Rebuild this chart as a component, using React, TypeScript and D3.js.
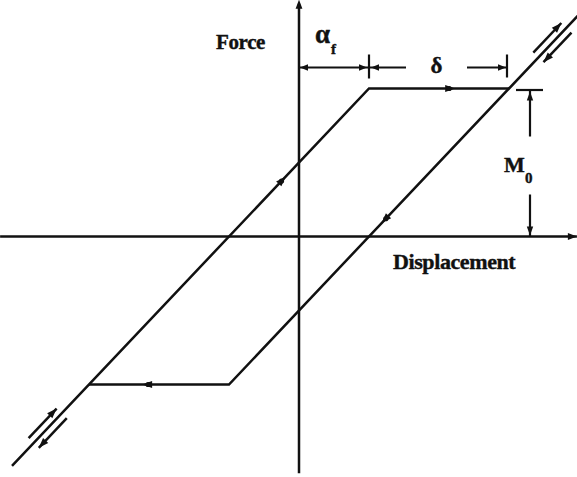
import React from "react";
import * as d3 from "d3";

// Friction hysteresis loop: force vs displacement, slip force M0,
// elastic offset alpha_f and slip length delta (displacement in alpha_f units, force in M0 units).
const alphaF = 1;
const delta = 2;
const slipForce = 1;

// Loop branches (displacement, force)
const upperBranchD = [-4.1, 1, 3];
const upperBranchF = [-1.55, 1, 1];
const lowerBranchD = [-3, -1, 4.02];
const lowerBranchF = [-1, -1, 1.51];

// Direction markers along the loop
const markerD = [2.16, -2.17, -0.24, 1.23];
const markerF = [1, -1, 0.38, 0.115];
const markerDirD = [1, -1, 1, -1];
const markerDirF = [0, 0, 0.5, -0.5];

// Load-reversal arrow pairs along the elastic branches (displacement spans)
const reversalSpans = [
  [3.42, 3.82],
  [-3.79, -3.39],
];
const reversalBranch = ["lower", "upper"];

// Axis extents
const axisD = [-4.27, 3.97];
const axisF = [-1.6, 1.6];

const W = 577;
const H = 477;

const x = d3.scaleLinear().domain([0, 1]).range([299, 369]);
const y = d3.scaleLinear().domain([0, 1]).range([236.5, 88.5]);

const upperF = d3.scaleLinear().domain(upperBranchD).range(upperBranchF);
const lowerF = d3.scaleLinear().domain(lowerBranchD).range(lowerBranchF);

const line = d3
  .line<[number, number]>()
  .x((p) => x(p[0]))
  .y((p) => y(p[1]));

const stroke = "#111";
const lw = 2.5;
const font = "'Liberation Serif', 'Times New Roman', serif";

function head(tx: number, ty: number, dx: number, dy: number, len = 8, half = 3.2) {
  const n = Math.hypot(dx, dy);
  const ux = dx / n;
  const uy = dy / n;
  const bx = tx - ux * len;
  const by = ty - uy * len;
  const px = -uy * half;
  const py = ux * half;
  return `M${tx},${ty}L${bx + px},${by + py}L${bx - px},${by - py}Z`;
}

export default function App() {
  const upperPts = upperBranchD.map((d, i) => [d, upperBranchF[i]] as [number, number]);
  const lowerPts = lowerBranchD.map((d, i) => [d, lowerBranchF[i]] as [number, number]);

  const x0 = x(0);
  const y0 = y(0);
  const yTop = y(slipForce);
  const xCorner = x(alphaF);
  const xSlipEnd = x(alphaF + delta);
  const dimY = yTop - 21;
  const xM = xSlipEnd + 21;

  return (
    <svg
      width={W}
      height={H}
      style={{ position: "fixed", left: 0, top: 0, background: "#fff" }}
    >
      <rect width={W} height={H} fill="#fff" />
      <g stroke={stroke} strokeWidth={lw} fill="none" strokeLinecap="butt">
        {/* axes */}
        <line x1={x(axisD[0])} y1={y0} x2={x(axisD[1])} y2={y0} />
        <line x1={x0} y1={y(axisF[0])} x2={x0} y2={y(axisF[1]) + 4} />
        {/* loop */}
        <path d={line(upperPts) ?? ""} strokeLinejoin="miter" />
        <path d={line(lowerPts) ?? ""} strokeLinejoin="miter" />
      </g>
      <g fill={stroke}>
        <path d={head(x(axisD[1]), y0, 1, 0, 9, 3.4)} />
        <path d={head(x0, y(axisF[1]), 0, -1, 9, 3.4)} />
        {markerD.map((d, i) => {
          const px = x(d);
          const py = y(markerF[i]);
          const ddx = x(markerD[i] + markerDirD[i]) - x(markerD[i]);
          const ddy = y(markerF[i] + markerDirF[i]) - y(markerF[i]);
          const n = Math.hypot(ddx, ddy);
          return (
            <g key={i}>
              <path d={head(px + (ddx / n) * 5, py + (ddy / n) * 5, ddx, ddy, 10, 3.6)} />
              <circle cx={px - (ddx / n) * 1} cy={py - (ddy / n) * 1} r={2.6} />
            </g>
          );
        })}
      </g>
      {/* load reversal arrows beside the elastic branches */}
      {reversalSpans.map((span, i) => {
        const fOf = reversalBranch[i] === "upper" ? upperF : lowerF;
        const ax = x(span[0]);
        const ay = y(fOf(span[0]));
        const bx = x(span[1]);
        const by = y(fOf(span[1]));
        const L = Math.hypot(bx - ax, by - ay);
        const ux = (bx - ax) / L;
        const uy = (by - ay) / L;
        // normal pointing up-left
        let nx = uy;
        let ny = -ux;
        if (ny > 0) {
          nx = -nx;
          ny = -ny;
        }
        const off = 7;
        const lo = span[0] < span[1] ? 0 : 1;
        const loPt = lo === 0 ? [ax, ay] : [bx, by];
        const hiPt = lo === 0 ? [bx, by] : [ax, ay];
        const dirX = hiPt[0] - loPt[0];
        const dirY = hiPt[1] - loPt[1];
        return (
          <g key={i}>
            <line
              x1={loPt[0] + nx * off}
              y1={loPt[1] + ny * off}
              x2={hiPt[0] + nx * off}
              y2={hiPt[1] + ny * off}
              stroke={stroke}
              strokeWidth={lw}
            />
            <path d={head(hiPt[0] + nx * off, hiPt[1] + ny * off, dirX, dirY, 10, 3.6)} fill={stroke} />
            <line
              x1={loPt[0] - nx * off}
              y1={loPt[1] - ny * off}
              x2={hiPt[0] - nx * off}
              y2={hiPt[1] - ny * off}
              stroke={stroke}
              strokeWidth={lw}
            />
            <path d={head(loPt[0] - nx * off, loPt[1] - ny * off, -dirX, -dirY, 10, 3.6)} fill={stroke} />
          </g>
        );
      })}
      {/* alpha_f and delta dimensions */}
      <g stroke={stroke} strokeWidth={lw - 0.3}>
        <line x1={x0} y1={dimY} x2={xCorner - 1} y2={dimY} />
        <line x1={xCorner} y1={dimY - 13} x2={xCorner} y2={dimY + 11} />
        <line x1={xCorner + 1} y1={dimY} x2={xCorner + 37} y2={dimY} />
        <line x1={xSlipEnd - 42} y1={dimY} x2={xSlipEnd - 2} y2={dimY} />
        <line x1={xSlipEnd - 2} y1={dimY - 13} x2={xSlipEnd - 2} y2={dimY + 10} />
        {/* M0 dimension */}
        <line x1={xM - 14} y1={yTop + 1.5} x2={xM + 13} y2={yTop + 1.5} />
        <line x1={xM} y1={yTop + 2} x2={xM} y2={yTop + 48} />
        <line x1={xM} y1={y0 - 42} x2={xM} y2={y0} />
      </g>
      <g fill={stroke}>
        <path d={head(x0 + 1, dimY, -1, 0, 8, 3.2)} />
        <path d={head(xCorner - 2, dimY, 1, 0, 8, 3.2)} />
        <path d={head(xCorner + 2, dimY, -1, 0, 8, 3.2)} />
        <path d={head(xSlipEnd - 3, dimY, 1, 0, 8, 3.2)} />
        <path d={head(xM, yTop + 3, 0, -1, 9, 3.2)} />
        <path d={head(xM, y0 - 1, 0, 1, 9, 3.2)} />
      </g>
      {/* labels */}
      <g fontFamily={font} fontWeight="bold" fill={stroke} stroke={stroke} strokeWidth={0.4}>
        <text x={x0 - 34} y={48.5} fontSize={21} textAnchor="end" letterSpacing={-0.4}>
          Force
        </text>
        <text x={393} y={268.5} fontSize={22} letterSpacing={-0.4}>
          Displacement
        </text>
        <text x={315} y={43} fontSize={27}>
          α
        </text>
        <text x={331} y={54} fontSize={15}>
          f
        </text>
        <text x={(xCorner + 37 + xSlipEnd - 42) / 2} y={73} fontSize={23} textAnchor="middle">
          δ
        </text>
        <text x={504} y={172} fontSize={22}>
          M
        </text>
        <text x={525} y={183} fontSize={15}>
          0
        </text>
      </g>
    </svg>
  );
}
